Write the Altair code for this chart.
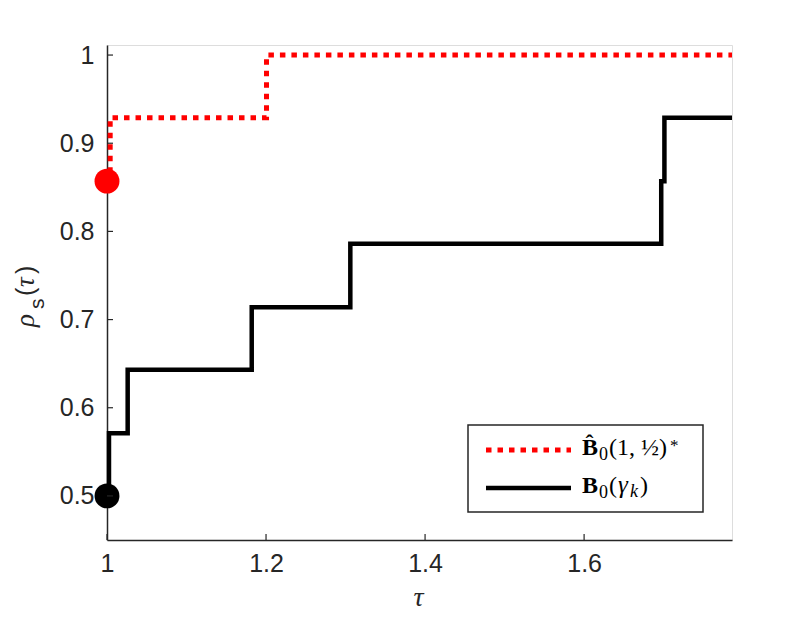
import altair as alt
import pandas as pd

# ---- data ----
red_tau = [1.0, 1.004, 1.2006, 1.786]
red_rho = [0.857, 0.929, 1.0, 1.0]
black_tau = [1.0, 1.0025, 1.026, 1.182, 1.306, 1.697, 1.701, 1.786]
black_rho = [0.5, 0.571, 0.643, 0.714, 0.786, 0.857, 0.929, 0.929]
x_ticks = [1.0, 1.2, 1.4, 1.6]
y_ticks = [0.5, 0.6, 0.7, 0.8, 0.9, 1.0]
x_title = "τ"
y_title_parts = ["ρ", "s", "(", "τ", ")"]
legend_row1 = ["B̂", "0", "(1, ½)", "*"]
legend_row2 = ["B", "0", "(", "γ", "k", ")"]

AX = "#262626"
W, H = 625, 495
SERIF = "Liberation Serif"
SANS = "Liberation Sans"

red_df = pd.DataFrame({"tau": red_tau, "rho": red_rho})
black_df = pd.DataFrame({"tau": black_tau, "rho": black_rho})

xs = alt.Scale(domain=[1.0, 1.786], nice=False, zero=False)
ys = alt.Scale(domain=[0.45, 1.0114], nice=False, zero=False)

x_axis = alt.Axis(values=x_ticks, format=".1~f", ticks=False, tickSize=0, grid=False,
                  labelPadding=11, labelFontSize=25, labelFont=SANS, labelFlush=False,
                  labelColor=AX, domainColor=AX, domainWidth=1.5, title=None)
y_axis = alt.Axis(values=y_ticks, format=".1~f", ticks=False, tickSize=0, grid=False,
                  labelPadding=13, labelFontSize=25, labelFont=SANS, labelFlush=False,
                  labelColor=AX, domainColor=AX, domainWidth=1.5, title=None)

X = alt.X("tau:Q", scale=xs, axis=x_axis)
Y = alt.Y("rho:Q", scale=ys, axis=y_axis)

black_line = alt.Chart(black_df).mark_line(
    interpolate="step-after", color="black", strokeWidth=4.5, strokeJoin="miter"
).encode(x=X, y=Y)

red_line = alt.Chart(red_df).mark_line(
    interpolate="step-after", color="#FF0000", strokeWidth=5, strokeDash=[5.5, 6],
    strokeCap="butt"
).encode(x=X, y=Y)

red_pt = alt.Chart(red_df.head(1)).mark_point(
    filled=True, shape="circle", size=620, color="#FF0000", opacity=1
).encode(x=X, y=Y)
black_pt = alt.Chart(black_df.head(1)).mark_point(
    filled=True, shape="circle", size=620, color="black", opacity=1
).encode(x=X, y=Y)

xt = alt.Chart(pd.DataFrame({"tau": x_ticks})).mark_rule(color=AX, strokeWidth=1.2).encode(
    x=X, y=alt.value(H), y2=alt.value(H - 6))
yt = alt.Chart(pd.DataFrame({"rho": y_ticks})).mark_rule(color=AX, strokeWidth=1.2).encode(
    y=Y, x=alt.value(0), x2=alt.value(6))

one = pd.DataFrame({"k": [0]})
leg_box = alt.Chart(one).mark_rect(fill="white", stroke=AX, strokeWidth=1.5).encode(
    x=alt.value(361), x2=alt.value(596), y=alt.value(380), y2=alt.value(467))
leg_red = alt.Chart(one).mark_rule(color="#FF0000", strokeWidth=5, strokeDash=[5.5, 6],
                                   strokeCap="butt").encode(
    x=alt.value(379), x2=alt.value(464), y=alt.value(405))
leg_black = alt.Chart(one).mark_rule(color="black", strokeWidth=4.5).encode(
    x=alt.value(379), x2=alt.value(464), y=alt.value(443))


def txt(s, xpos, ypos, size, font=SERIF, weight="normal", style="normal",
        angle=0, align="left", color="black"):
    return alt.Chart(pd.DataFrame({"label": [s]})).mark_text(
        align=align, baseline="alphabetic", font=font, fontSize=size,
        fontWeight=weight, fontStyle=style, angle=angle, color=color
    ).encode(text="label:N", x=alt.value(xpos), y=alt.value(ypos))


# legend text pieces
r1 = 410
r2 = 448
texts = [
    txt(legend_row1[0], 475, r1, 24, weight="bold"),
    txt(legend_row1[1], 492, r1 + 5, 18),
    txt(legend_row1[2], 502, r1, 24),
    txt(legend_row1[3], 563, r1 - 4, 17),
    txt(legend_row2[0], 475, r2, 24, weight="bold"),
    txt(legend_row2[1], 492, r2 + 5, 18),
    txt(legend_row2[2], 502, r2, 24),
    txt(legend_row2[3], 511, r2, 25, style="italic"),
    txt(legend_row2[4], 523, r2 + 4, 18, style="italic"),
    txt(legend_row2[5], 533, r2, 24),
]

# axis titles
titles = [
    txt(x_title, W / 2 - 1, H + 66, 28, style="italic", align="center", color=AX),
    txt(y_title_parts[0], -73, 282, 27, style="italic", angle=270, color=AX),
    txt(y_title_parts[1], -63, 264, 21, font=SANS, angle=270, color=AX),
    txt(y_title_parts[2], -73, 251, 25, font=SANS, angle=270, color=AX),
    txt(y_title_parts[3], -73, 242, 27, style="italic", angle=270, color=AX),
    txt(y_title_parts[4], -73, 229, 25, font=SANS, angle=270, color=AX),
]

chart = alt.layer(
    black_line, red_line, red_pt, black_pt, xt, yt, leg_box, leg_red, leg_black,
    *texts, *titles
).properties(
    width=W, height=H,
    autosize=alt.AutoSizeParams(type="none"),
    padding={"left": 99, "top": 37, "right": 70, "bottom": 74},
).configure_view(stroke=None).configure(background="white")

chart.save("out.html", embed_options={"renderer": "svg", "actions": False})
